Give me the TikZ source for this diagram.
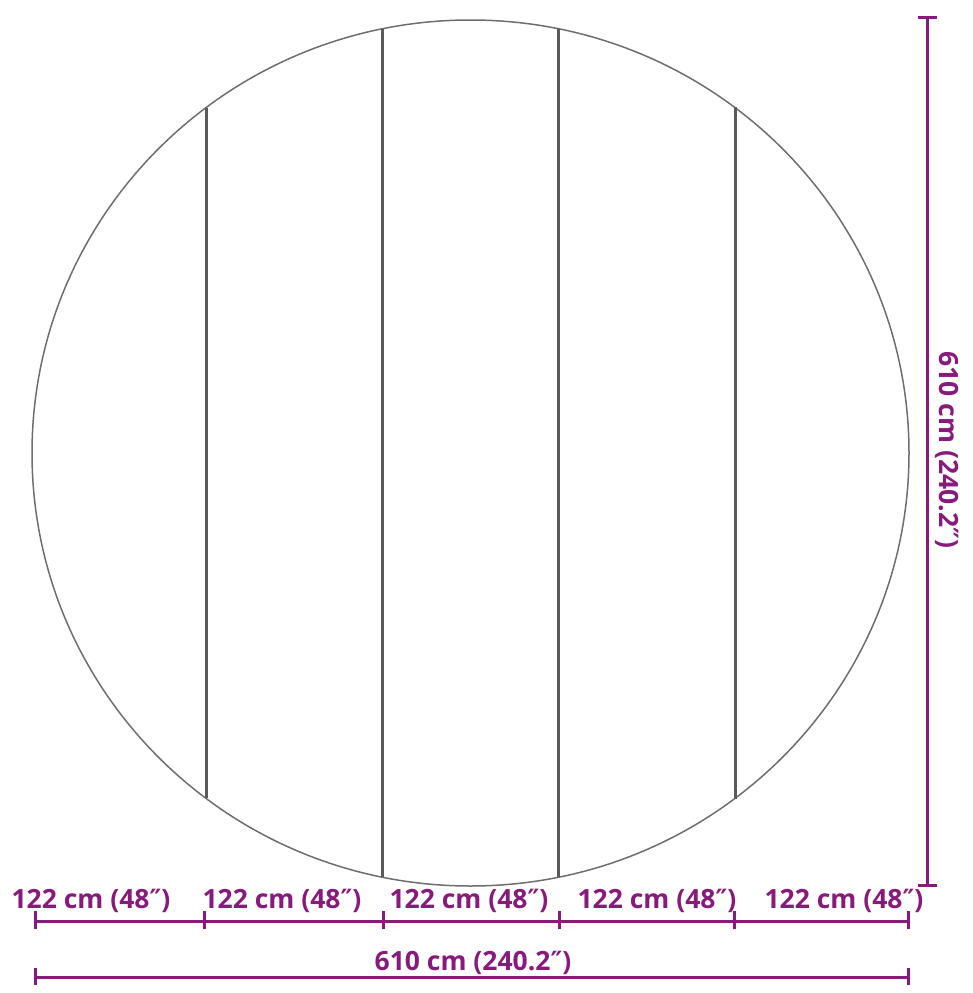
\documentclass[tikz,border=0pt]{standalone}
\usepackage{fontspec}
\setmainfont{Open Sans}
\newfontfamily\primefont{DejaVu Sans}
\newcommand{\dprime}{{\primefont ″}}
\definecolor{dimpurple}{RGB}{136,26,124}
\definecolor{outline}{RGB}{110,110,110}
\definecolor{seam}{RGB}{90,90,90}
\begin{document}
\begin{tikzpicture}[x=1pt,y=-1pt,
  dimline/.style={draw=dimpurple,line width=3pt},
  dimtick/.style={draw=dimpurple,line width=3pt},
  dimlabel/.style={text=dimpurple,font=\bfseries\fontsize{26.5}{30}\selectfont,inner sep=0pt},
  rim/.style={draw=outline,line width=1.5pt},
  seamline/.style={draw=seam,line width=3pt}]
\useasboundingbox (0,0) rectangle (972,993);
% circle
\coordinate (c) at (470.5,453);
\draw[rim] (c) ellipse [x radius=438.5, y radius=433];
% seams (ends on the rim)
\coordinate (s1t) at (206,108); \coordinate (s1b) at (206,798);
\coordinate (s2t) at (382,29);  \coordinate (s2b) at (382,877);
\coordinate (s3t) at (558,29);  \coordinate (s3b) at (558,877);
\coordinate (s4t) at (735,107); \coordinate (s4b) at (735,799);
\draw[seamline] (s1t) -- (s1b);
\draw[seamline] (s2t) -- (s2b);
\draw[seamline] (s3t) -- (s3b);
\draw[seamline] (s4t) -- (s4b);
% vertical dimension
\coordinate (vt) at (927,17); \coordinate (vb) at (927,885);
\draw[dimline] (vt) -- (vb);
\draw[dimtick] (918,17) -- (937,17);
\draw[dimtick] (918,885) -- (937,885);
\node[dimlabel,rotate=-90] (vlab) at (947,450) {610 cm (240.2\dprime)};
% segment dimension
\coordinate (p0) at (35,921); \coordinate (p1) at (204,921);
\coordinate (p2) at (383,921); \coordinate (p3) at (559,921);
\coordinate (p4) at (734,921); \coordinate (p5) at (908,921);
\draw[dimline] (p0) -- (p5);
\foreach \p in {p0,p1,p2,p3,p4,p5}{\draw[dimtick] ([yshift=-8]\p) -- ([yshift=10]\p);}
\node[dimlabel] (l1) at (91,901) {122 cm (48\dprime)};
\node[dimlabel] (l2) at (282,901) {122 cm (48\dprime)};
\node[dimlabel] (l3) at (469,901) {122 cm (48\dprime)};
\node[dimlabel] (l4) at (657,901) {122 cm (48\dprime)};
\node[dimlabel] (l5) at (844,901) {122 cm (48\dprime)};
% total dimension
\coordinate (q0) at (35,977); \coordinate (q1) at (908,977);
\draw[dimline] (q0) -- (q1);
\draw[dimtick] ([yshift=-8]q0) -- ([yshift=9]q0);
\draw[dimtick] ([yshift=-8]q1) -- ([yshift=9]q1);
\node[dimlabel] (tot) at (473,963) {610 cm (240.2\dprime)};
\end{tikzpicture}
\end{document}
